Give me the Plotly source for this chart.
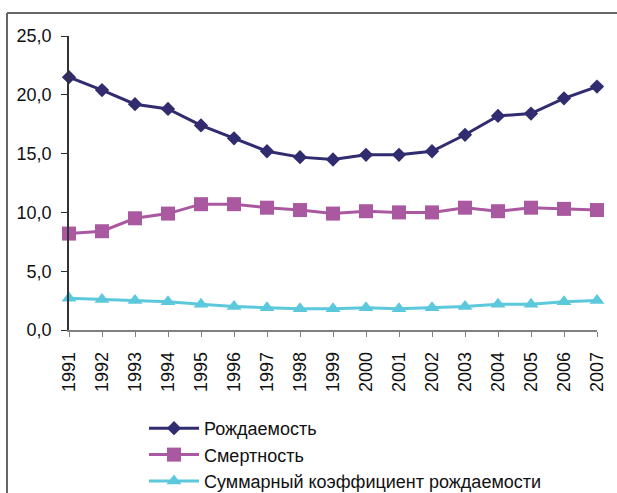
import plotly.graph_objects as go

years = list(range(1991, 2008))
births = [21.5, 20.4, 19.2, 18.8, 17.4, 16.3, 15.2, 14.7, 14.5, 14.9, 14.9, 15.2, 16.6, 18.2, 18.4, 19.7, 20.7]
deaths = [8.2, 8.4, 9.5, 9.9, 10.7, 10.7, 10.4, 10.2, 9.9, 10.1, 10.0, 10.0, 10.4, 10.1, 10.4, 10.3, 10.2]
tfr = [2.7, 2.6, 2.5, 2.4, 2.2, 2.0, 1.9, 1.8, 1.8, 1.9, 1.8, 1.9, 2.0, 2.2, 2.2, 2.4, 2.5]
yticks = [0, 5, 10, 15, 20, 25]

names = ["Рождаемость", "Смертность", "Суммарный коэффициент рождаемости"]
colors = ["#302C6F", "#AA58A0", "#5BC8DB"]

fig = go.Figure()
fig.add_trace(go.Scatter(x=years, y=births, name=names[0], mode="lines+markers",
                         line=dict(color=colors[0], width=3),
                         marker=dict(symbol="diamond", size=11, color=colors[0]),
                         cliponaxis=False))
fig.add_trace(go.Scatter(x=years, y=deaths, name=names[1], mode="lines+markers",
                         line=dict(color=colors[1], width=3),
                         marker=dict(symbol="square", size=14, color=colors[1]),
                         cliponaxis=False))
fig.add_trace(go.Scatter(x=years, y=tfr, name=names[2], mode="lines+markers",
                         line=dict(color=colors[2], width=3),
                         marker=dict(symbol="triangle-up", size=13, color=colors[2]),
                         cliponaxis=False))

W, H = 617, 493
L, T = 69, 36
pw, ph = 528, 294
R, B = W - L - pw, H - T - ph

# outer frame: only its left and top edges fall inside the picture
fx0, fy0 = (7 - L) / pw, 1 + (T - 13) / ph
frame = dict(color="#666666", width=2)
fig.add_shape(type="line", xref="paper", yref="paper",
              x0=fx0, x1=(W + 5 - L) / pw, y0=fy0, y1=fy0, line=frame)
fig.add_shape(type="line", xref="paper", yref="paper",
              x0=fx0, x1=fx0, y0=fy0, y1=-(H + 5 - (H - B)) / ph, line=frame)

fig.update_layout(
    width=W, height=H,
    margin=dict(l=L, r=R, t=T, b=B, autoexpand=False),
    plot_bgcolor="white", paper_bgcolor="white",
    separators=", ",
    font=dict(family="Liberation Sans, Arial, sans-serif", size=18, color="#111111"),
    xaxis=dict(range=[1991, 2007], tickmode="array", tickvals=years,
               ticktext=[str(y) for y in years], tickangle=-90,
               showgrid=False, zeroline=False, showline=True, linecolor="#808080",
               linewidth=1.5, ticks="outside", ticklen=5, tickcolor="#808080",
               tickfont=dict(size=18), ticklabelstandoff=8, automargin=False),
    yaxis=dict(range=[0, 25], tickmode="array", tickvals=yticks, tickformat=".1f",
               showgrid=False, zeroline=False, showline=True, linecolor="#333333",
               linewidth=1.5, ticks="outside", ticklen=6, tickcolor="#333333",
               tickfont=dict(size=18), ticklabelstandoff=6, automargin=False),
    legend=dict(xref="container", yref="container",
                x=144 / W, y=1 - 410 / H, xanchor="left", yanchor="top",
                font=dict(size=18), itemwidth=50, bgcolor="rgba(0,0,0,0)",
                tracegroupgap=0),
    showlegend=True,
)

# drop the default page margin so the figure sits at the window's corner
fig.write_html("out.html", config={"displayModeBar": False},
               post_script="document.body.style.margin='0';document.body.style.overflow='hidden';")
